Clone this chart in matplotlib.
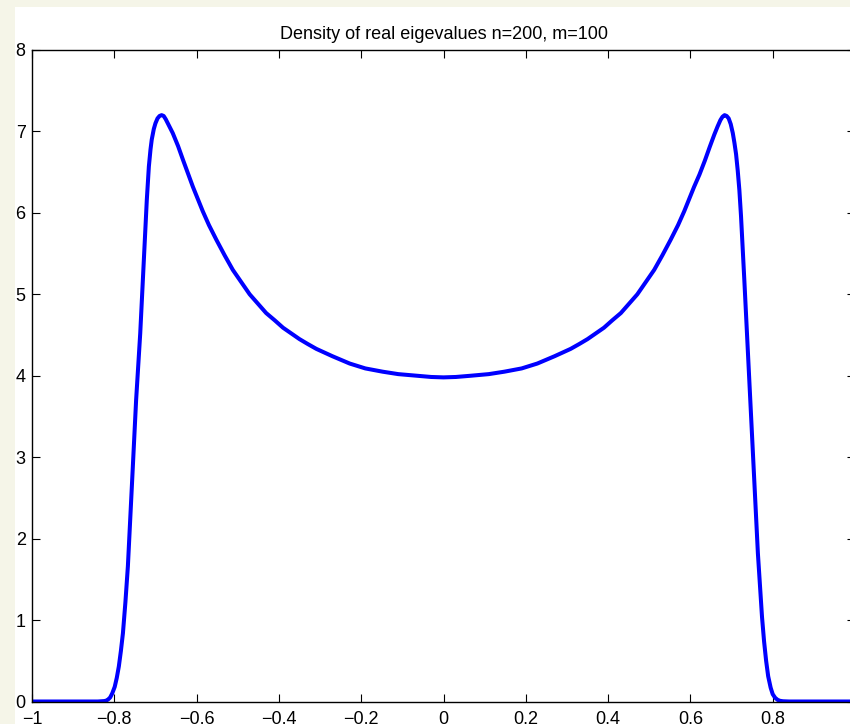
import matplotlib
matplotlib.use("Agg")
import matplotlib.pyplot as plt
from matplotlib.patches import Rectangle

# Density curve (left half, peak, centre, right half)
x_vals = [-1.0, -0.90, -0.84, -0.825, -0.820, -0.815, -0.810, -0.805, -0.799,
          -0.794, -0.789, -0.784, -0.779, -0.773, -0.767, -0.763, -0.759,
          -0.755, -0.751, -0.747, -0.742, -0.737, -0.733, -0.729, -0.725,
          -0.721, -0.716, -0.712, -0.709, -0.704, -0.700, -0.695, -0.690,
          -0.685, -0.680, -0.675, -0.668, -0.662, -0.658, -0.645, -0.633,
          -0.620, -0.609, -0.597, -0.585, -0.570, -0.552, -0.532, -0.512,
          -0.490, -0.471, -0.450, -0.431, -0.410, -0.390, -0.370, -0.350,
          -0.330, -0.309, -0.270, -0.228, -0.190, -0.148, -0.110, -0.066,
          -0.030, 0.0, 0.030, 0.066, 0.110, 0.148, 0.190, 0.228, 0.270,
          0.309, 0.330, 0.350, 0.370, 0.390, 0.410, 0.431, 0.450, 0.471,
          0.490, 0.512, 0.532, 0.552, 0.570, 0.585, 0.597, 0.609, 0.622,
          0.635, 0.647, 0.658, 0.666, 0.673, 0.678, 0.683, 0.688, 0.693,
          0.698, 0.703, 0.707, 0.711, 0.715, 0.719, 0.723, 0.727, 0.731,
          0.735, 0.739, 0.744, 0.748, 0.752, 0.756, 0.760, 0.764, 0.769,
          0.774, 0.779, 0.784, 0.789, 0.795, 0.800, 0.806, 0.812, 0.818,
          0.825, 0.84, 0.90, 1.0]
y_vals = [0.0, 0.0, 0.0, 0.005, 0.01, 0.025, 0.05, 0.10, 0.18,
          0.29, 0.43, 0.62, 0.84, 1.22, 1.66, 2.06, 2.48,
          2.88, 3.29, 3.70, 4.12, 4.52, 4.93, 5.34, 5.75,
          6.16, 6.57, 6.78, 6.90, 7.03, 7.10, 7.16, 7.19,
          7.20, 7.19, 7.15, 7.08, 7.02, 6.98, 6.82, 6.65,
          6.47, 6.32, 6.17, 6.02, 5.85, 5.67, 5.48, 5.30,
          5.14, 5.00, 4.88, 4.77, 4.68, 4.59, 4.52, 4.45,
          4.39, 4.33, 4.24, 4.15, 4.09, 4.05, 4.02, 4.00,
          3.985, 3.98, 3.985, 4.00, 4.02, 4.05, 4.09, 4.15, 4.24,
          4.33, 4.39, 4.45, 4.52, 4.59, 4.68, 4.77, 4.88, 5.00,
          5.14, 5.30, 5.48, 5.67, 5.85, 6.02, 6.17, 6.32, 6.47,
          6.64, 6.81, 6.96, 7.06, 7.14, 7.18, 7.20, 7.19, 7.16,
          7.09, 6.98, 6.86, 6.72, 6.52, 6.28, 5.96, 5.58, 5.18,
          4.77, 4.36, 3.86, 3.45, 3.04, 2.63, 2.22, 1.82, 1.42,
          1.04, 0.74, 0.50, 0.31, 0.17, 0.09, 0.045, 0.02, 0.008,
          0.003, 0.0, 0.0, 0.0]

x_ticks = [-1, -0.8, -0.6, -0.4, -0.2, 0, 0.2, 0.4, 0.6, 0.8, 1]
# the label at 1 falls outside the cropped window in the reference
x_tick_labels = ["\u22121", "\u22120.8", "\u22120.6", "\u22120.4", "\u22120.2",
                 "0", "0.2", "0.4", "0.6", "0.8", ""]
y_ticks = [0, 1, 2, 3, 4, 5, 6, 7, 8]

plt.rcParams['font.family'] = ['Liberation Sans', 'DejaVu Sans']

fig = plt.figure(figsize=(8.5, 7.24), dpi=100, facecolor='#f5f5e8')
# white plotting window on the cream page
fig.patches.append(Rectangle((15 / 850, 0), 1, 1 - 7 / 724, transform=fig.transFigure,
                             facecolor='white', edgecolor='none', zorder=-5))

ax = fig.add_axes([32 / 850, 22.5 / 724, 823 / 850, 651.5 / 724])
ax.set_facecolor('white')
ax.plot(x_vals, y_vals, color='#0000ff', lw=2.9,
        solid_joinstyle='round', solid_capstyle='round')

ax.set_xlim(-1, 1)
ax.set_ylim(0, 8)
ax.set_xticks(x_ticks)
ax.set_xticklabels(x_tick_labels)
ax.set_yticks(y_ticks)
ax.tick_params(direction='in', length=6, width=0.8, labelsize=13,
               top=True, right=True)
ax.tick_params(axis='x', pad=7)
ax.tick_params(axis='y', pad=4.5)
for s in ax.spines.values():
    s.set_linewidth(1.0)

ax.set_title("Density of real eigevalues n=200, m=100", fontsize=13, pad=8)

fig.savefig("out.png", dpi=100, facecolor=fig.get_facecolor())
